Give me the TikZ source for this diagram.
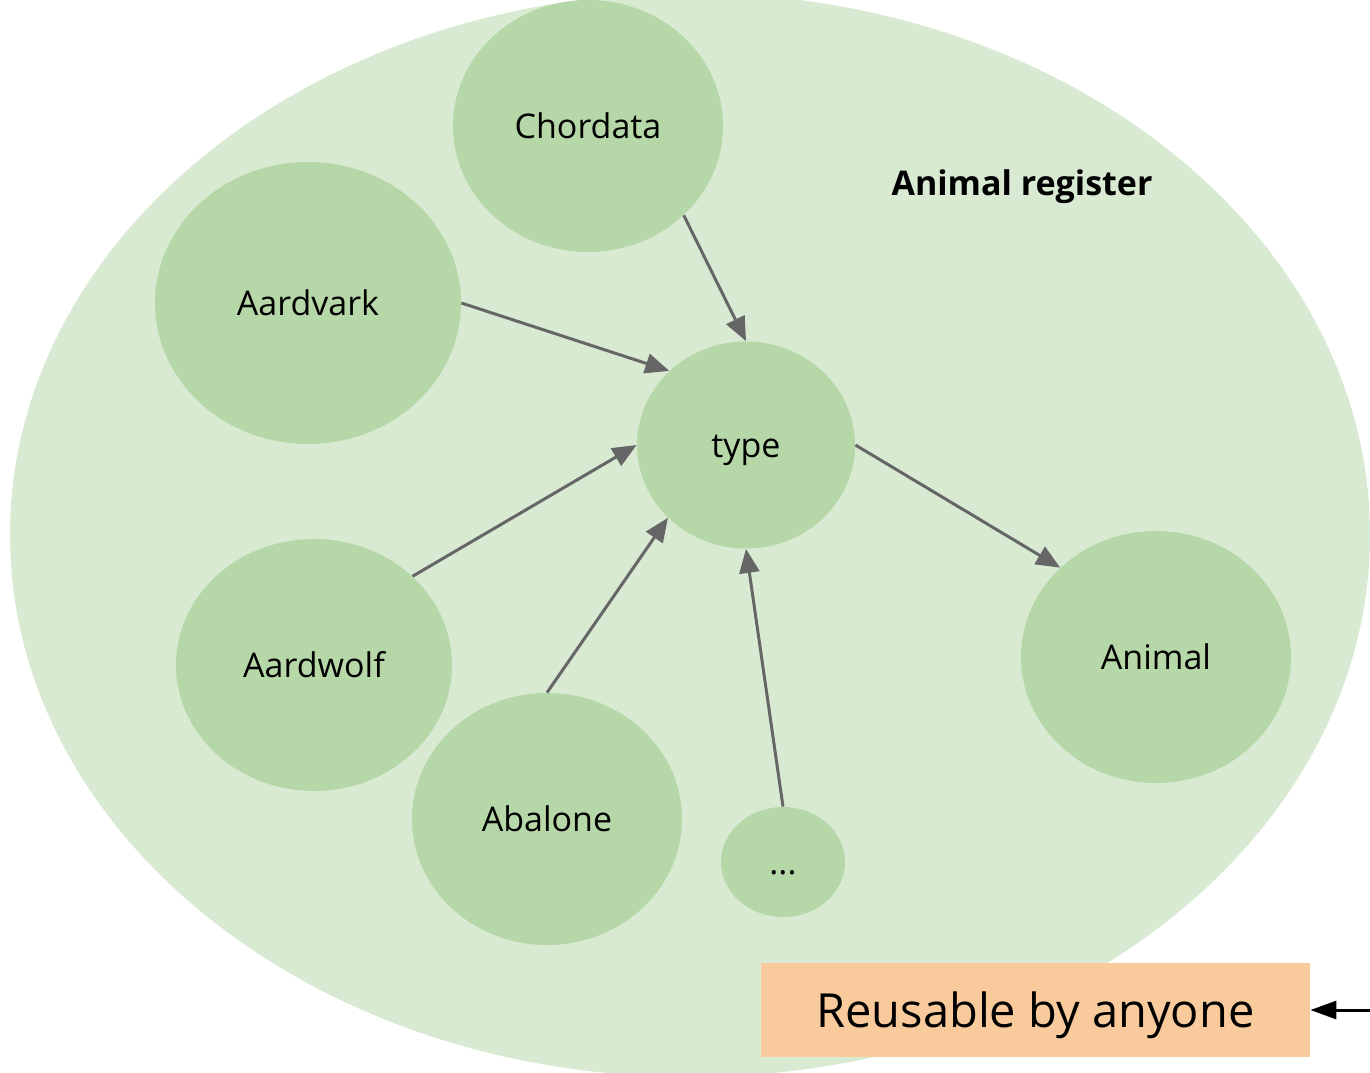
\documentclass[tikz,border=0pt]{standalone}
\usepackage{fontspec}
\setmainfont{Open Sans}
\usetikzlibrary{shapes.geometric,arrows.meta}
\definecolor{regionfill}{HTML}{D9EAD3}
\definecolor{itemfill}{HTML}{B6D7A8}
\definecolor{notefill}{HTML}{F9CB9C}
\definecolor{linkgray}{HTML}{666666}
\tikzset{
  label text/.style={text height=#1, text depth=0pt},
  item/.style={ellipse, fill=itemfill, inner sep=0pt, label text=12.9pt, font=\fontsize{17}{20}\selectfont},
  link/.style={draw=linkgray, line width=1.5pt, -{Triangle[length=12pt,width=10pt]}},
}
\begin{document}
\begin{tikzpicture}[x=0.5pt,y=-0.5pt]
\useasboundingbox (0,0) rectangle (1370,1072);
\clip (0,0) rectangle (1370,1072);
% register area
\fill[regionfill] (690,535) ellipse [x radius=680, y radius=542];
\node[label text=12.9pt, font=\bfseries\fontsize{17}{20}\selectfont] (title) at (1022,183) {Animal register};
% entries
\node[item, minimum width=135pt, minimum height=126pt] (chordata) at (588,126) {Chordata};
\node[item, minimum width=153pt, minimum height=141pt] (aardvark) at (308,303) {Aardvark};
\node[item, minimum width=109pt, minimum height=103.5pt] (type) at (746,445) {type};
\node[item, minimum width=138pt, minimum height=126pt] (aardwolf) at (314,665) {Aardwolf};
\node[item, minimum width=135pt, minimum height=126pt] (abalone) at (547,819) {Abalone};
\node[item, minimum width=62pt, minimum height=55pt] (more) at (783,862) {...};
\node[item, minimum width=135pt, minimum height=126pt] (animal) at (1156,657) {Animal};
% relations
\draw[link] (chordata.-43) -- (type.north);
\draw[link] (aardvark.east) -- (type.136);
\draw[link] (aardwolf.42) -- (type.west);
\draw[link] (abalone.north) -- (type.223);
\draw[link] (more.north) -- (type.south);
\draw[link] (type.east) -- (animal.137);
% note
\node[fill=notefill, minimum width=274.5pt, minimum height=47pt, inner sep=0pt, label text=17.9pt, font=\fontsize{23.5}{28}\selectfont] (note) at (1035.5,1010) {Reusable by anyone};
\coordinate (noteend) at (1372,1010);
\draw[line width=1.5pt, -{Triangle[length=13pt,width=9pt]}] (noteend) -- (note.east);
\end{tikzpicture}
\end{document}
